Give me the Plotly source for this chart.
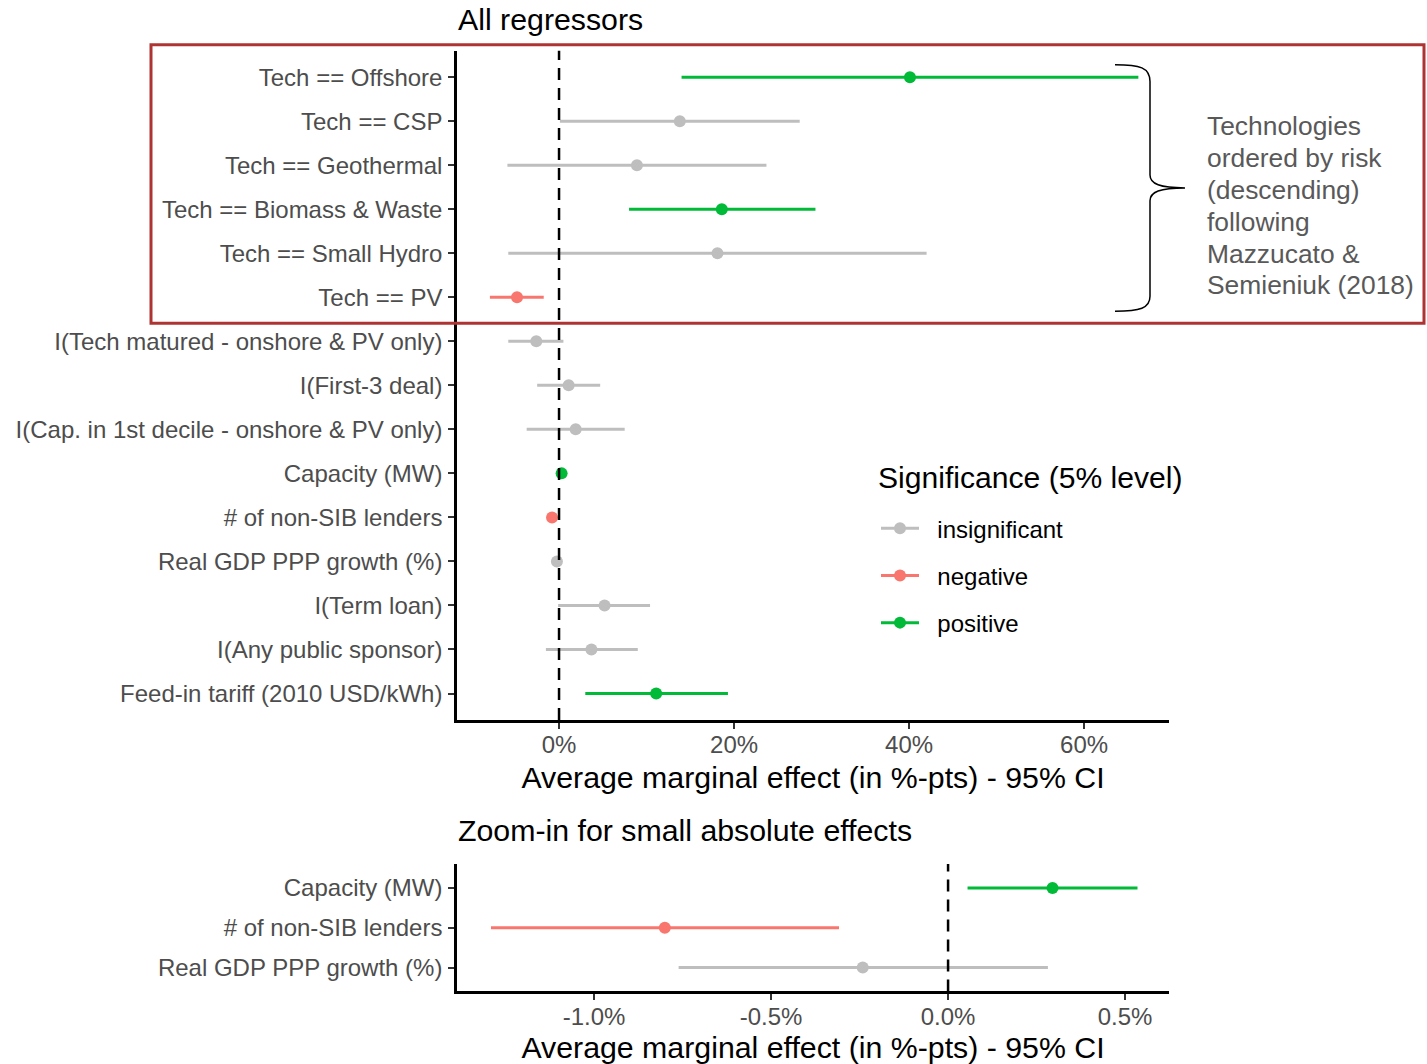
import plotly.graph_objects as go

W, H = 1427, 1064

# Average marginal effects (in %-pts) with 95% confidence bounds
terms = [
    "Tech == Offshore",
    "Tech == CSP",
    "Tech == Geothermal",
    "Tech == Biomass & Waste",
    "Tech == Small Hydro",
    "Tech == PV",
    "I(Tech matured - onshore & PV only)",
    "I(First-3 deal)",
    "I(Cap. in 1st decile - onshore & PV only)",
    "Capacity (MW)",
    "# of non-SIB lenders",
    "Real GDP PPP growth (%)",
    "I(Term loan)",
    "I(Any public sponsor)",
    "Feed-in tariff (2010 USD/kWh)",
]
estimate = [40.1, 13.8, 8.9, 18.6, 18.1, -4.8, -2.6, 1.1, 1.9, 0.295, -0.80, -0.241, 5.2, 3.7, 11.1]
ci_low = [14.0, 0.1, -5.9, 8.0, -5.8, -7.9, -5.8, -2.5, -3.7, 0.055, -1.291, -0.761, -0.1, -1.5, 3.0]
ci_high = [66.2, 27.5, 23.7, 29.3, 42.0, -1.75, 0.5, 4.7, 7.5, 0.535, -0.308, 0.282, 10.4, 9.0, 19.3]
significance = [
    "positive", "insignificant", "insignificant", "positive", "insignificant",
    "negative", "insignificant", "insignificant", "insignificant", "positive",
    "negative", "insignificant", "insignificant", "insignificant", "positive",
]

# Terms repeated in the zoomed-in panel
zoom_terms = ["Capacity (MW)", "# of non-SIB lenders", "Real GDP PPP growth (%)"]

top_tickvals = [0, 20, 40, 60]
top_ticktext = ["0%", "20%", "40%", "60%"]
zoom_tickvals = [-1.0, -0.5, 0.0, 0.5]
zoom_ticktext = ["-1.0%", "-0.5%", "0.0%", "0.5%"]

groups = ["insignificant", "negative", "positive"]
colors = {"insignificant": "#BEBEBE", "negative": "#F8766D", "positive": "#00BA38"}

legend_title = "Significance (5% level)"
note_lines = [
    "Technologies",
    "ordered by risk",
    "(descending)",
    "following",
    "Mazzucato &",
    "Semieniuk (2018)",
]

FONT = "Liberation Sans, Arial, sans-serif"
TICK_GREY = "#4D4D4D"
NBSP = "\u00a0"


def fx(p):
    return p / W


def fy(p):
    return 1 - p / H


fig = go.Figure()


def add_panel(rows, xref, yref):
    for g in groups:
        idx = [i for i in rows if significance[i] == g]
        if not idx:
            continue
        xs, ys = [], []
        for i in idx:
            xs += [ci_low[i], ci_high[i], None]
            ys += [terms[i], terms[i], None]
        fig.add_trace(go.Scatter(
            x=xs, y=ys, mode="lines", xaxis=xref, yaxis=yref,
            line=dict(color=colors[g], width=3), showlegend=False, hoverinfo="skip",
        ))
        fig.add_trace(go.Scatter(
            x=[estimate[i] for i in idx], y=[terms[i] for i in idx], mode="markers",
            xaxis=xref, yaxis=yref, marker=dict(color=colors[g], size=12),
            showlegend=False, name=g,
        ))


add_panel(list(range(len(terms))), "x", "y")
add_panel([terms.index(t) for t in zoom_terms], "x2", "y2")

# Legend entries (line + point glyph)
for g in groups:
    fig.add_trace(go.Scatter(
        x=[None], y=[None], mode="lines+markers", name=NBSP * 2 + g, legendgroup=g,
        line=dict(color=colors[g], width=3), marker=dict(color=colors[g], size=12),
        xaxis="x", yaxis="y",
    ))

axis_common = dict(
    showline=True, linecolor="black", linewidth=2.5, mirror=False,
    ticks="outside", ticklen=6, tickwidth=2, tickcolor="#333333",
    showgrid=False, zeroline=False,
    tickfont=dict(family=FONT, size=24, color=TICK_GREY),
)
title_font = dict(family=FONT, size=30.3, color="black")

fig.update_layout(
    width=W, height=H, margin=dict(l=0, r=0, t=0, b=0),
    paper_bgcolor="white", plot_bgcolor="white",
    font=dict(family=FONT),
    xaxis=dict(
        **axis_common, domain=[fx(457), fx(1169)], anchor="y",
        range=[-11.66, 69.7], tickvals=top_tickvals, ticktext=top_ticktext,
        ticklabelstandoff=-4,
        title=dict(text="Average marginal effect (in %-pts) - 95% CI", font=title_font, standoff=10),
    ),
    yaxis=dict(
        **axis_common, domain=[fy(724), fy(51)], anchor="x",
        type="category", categoryorder="array", categoryarray=terms,
        range=[len(terms) - 0.4, -0.6], ticklabelstandoff=1,
    ),
    xaxis2=dict(
        **axis_common, domain=[fx(457), fx(1169)], anchor="y2",
        range=[-1.387, 0.624], tickvals=zoom_tickvals, ticktext=zoom_ticktext,
        ticklabelstandoff=-4,
        title=dict(text="Average marginal effect (in %-pts) - 95% CI", font=title_font, standoff=13),
    ),
    yaxis2=dict(
        **axis_common, domain=[fy(997), fy(869)], anchor="x2",
        type="category", categoryorder="array", categoryarray=zoom_terms,
        range=[len(zoom_terms) - 0.4, -0.6], ticklabelstandoff=1,
    ),
    legend=dict(
        x=fx(876), y=fy(509), xanchor="left", yanchor="top",
        font=dict(family=FONT, size=24, color="black"),
        bgcolor="rgba(0,0,0,0)", tracegroupgap=13, itemwidth=38,
    ),
    showlegend=True,
)

# Legend heading
fig.add_annotation(text=legend_title, xref="paper", yref="paper", x=fx(876), y=fy(480),
                   xanchor="left", yanchor="middle", showarrow=False,
                   font=dict(family=FONT, size=30.1, color="black"))

# Zero reference lines
for xr, yr in (("x", "y domain"), ("x2", "y2 domain")):
    fig.add_shape(type="line", xref=xr, yref=yr, x0=0, x1=0, y0=0, y1=1,
                  line=dict(color="black", width=2.5, dash="12px,8px"), layer="above")

# Panel titles
fig.add_annotation(text="All regressors", xref="paper", yref="paper", x=fx(456), y=fy(20),
                   xanchor="left", yanchor="middle", showarrow=False, font=title_font)
fig.add_annotation(text="Zoom-in for small absolute effects", xref="paper", yref="paper",
                   x=fx(456), y=fy(835), xanchor="left", yanchor="middle", showarrow=False,
                   font=title_font)

# Box around the technology dummies
fig.add_shape(type="rect", xref="paper", yref="paper", x0=fx(151), x1=fx(1424), y0=fy(325), y1=fy(45),
              line=dict(color="#AE3434", width=3), fillcolor="rgba(0,0,0,0)", layer="above")

# Curly brace next to the technology rows
pts = [(1115, 65), (1140, 65), (1150, 68), (1150, 82), (1150, 176), (1150, 185), (1160, 189), (1185, 189),
       (1160, 189), (1150, 193), (1150, 202), (1150, 298), (1150, 310), (1140, 313), (1115, 313)]
P = [(fx(a), fy(b)) for a, b in pts]
path = (f"M {P[0][0]},{P[0][1]} C {P[1][0]},{P[1][1]} {P[2][0]},{P[2][1]} {P[3][0]},{P[3][1]} "
        f"L {P[4][0]},{P[4][1]} C {P[5][0]},{P[5][1]} {P[6][0]},{P[6][1]} {P[7][0]},{P[7][1]} "
        f"C {P[8][0]},{P[8][1]} {P[9][0]},{P[9][1]} {P[10][0]},{P[10][1]} "
        f"L {P[11][0]},{P[11][1]} C {P[12][0]},{P[12][1]} {P[13][0]},{P[13][1]} {P[14][0]},{P[14][1]}")
fig.add_shape(type="path", xref="paper", yref="paper", path=path,
              line=dict(color="black", width=1.5))

for k, line in enumerate(note_lines):
    fig.add_annotation(text=line, xref="paper", yref="paper", x=fx(1205), y=fy(127 + 32 * k),
                       xanchor="left", yanchor="middle", showarrow=False,
                       font=dict(family=FONT, size=26.4, color="#595959"))

fig.write_html("out.html")
